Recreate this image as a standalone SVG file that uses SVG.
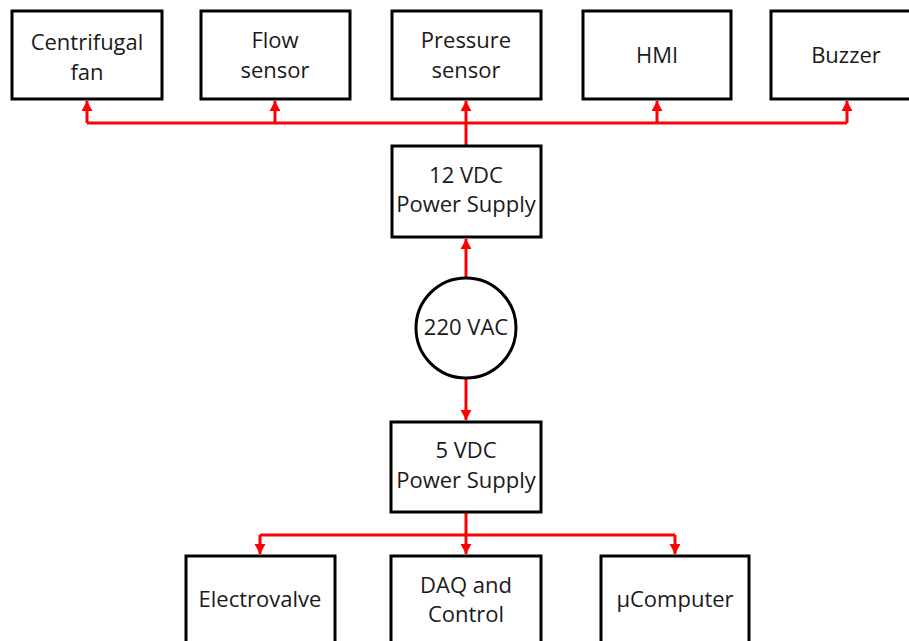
<svg xmlns="http://www.w3.org/2000/svg" width="909" height="641" viewBox="0 0 909 641">
<style>
.box{fill:#fff;stroke:#000;stroke-width:3}
.t{font-family:"Open Sans","Liberation Sans",sans-serif;font-size:22px;fill:#1a1a1a;text-anchor:middle}
.c{fill:none;stroke:#ff0000;stroke-width:3}
</style>
<defs>
<marker id="ah" markerUnits="userSpaceOnUse" markerWidth="10" markerHeight="12" refX="11" refY="6" orient="auto" viewBox="0 0 11 12">
<path d="M0,0 L11,6 L0,12 z" fill="#ff0000"/>
</marker>
</defs>
<rect width="909" height="641" fill="#fff"/>
<g id="connectors">
<path class="c" d="M87,123 H847"/>
<path class="c" d="M87,123 V101" marker-end="url(#ah)"/>
<path class="c" d="M275,123 V101" marker-end="url(#ah)"/>
<path class="c" d="M466,146 V101" marker-end="url(#ah)"/>
<path class="c" d="M657,123 V101" marker-end="url(#ah)"/>
<path class="c" d="M847,123 V101" marker-end="url(#ah)"/>
<path class="c" d="M466,278 V239" marker-end="url(#ah)"/>
<path class="c" d="M466,378 V420" marker-end="url(#ah)"/>
<path class="c" d="M466,513 V535 M260,535 H675"/>
<path class="c" d="M260,535 V554" marker-end="url(#ah)"/>
<path class="c" d="M466,535 V554" marker-end="url(#ah)"/>
<path class="c" d="M675,535 V554" marker-end="url(#ah)"/>
</g>
<g id="fan"><rect class="box" x="12" y="11" width="150" height="88"/><text class="t" x="87" y="50">Centrifugal</text><text class="t" x="87" y="80">fan</text></g>
<g id="flow"><rect class="box" x="201" y="11" width="149" height="88"/><text class="t" x="275" y="48">Flow</text><text class="t" x="275" y="78">sensor</text></g>
<g id="pressure"><rect class="box" x="392" y="11" width="149" height="88"/><text class="t" x="466" y="48">Pressure</text><text class="t" x="466" y="78">sensor</text></g>
<g id="hmi"><rect class="box" x="583" y="11" width="148" height="88"/><text class="t" x="657" y="63">HMI</text></g>
<g id="buzzer"><rect class="box" x="771" y="11" width="150" height="88"/><text class="t" x="846" y="63">Buzzer</text></g>
<g id="ps12"><rect class="box" x="392" y="146" width="149" height="91"/><text class="t" x="466" y="183">12 VDC</text><text class="t" x="466" y="212">Power Supply</text></g>
<g id="ac"><circle class="box" cx="466" cy="328" r="50"/><text class="t" x="466" y="335">220 VAC</text></g>
<g id="ps5"><rect class="box" x="391" y="422" width="150" height="90"/><text class="t" x="466" y="458">5 VDC</text><text class="t" x="466" y="488">Power Supply</text></g>
<g id="valve"><rect class="box" x="186" y="556" width="149" height="92"/><text class="t" x="260" y="607">Electrovalve</text></g>
<g id="daq"><rect class="box" x="391" y="556" width="150" height="92"/><text class="t" x="466" y="593">DAQ and</text><text class="t" x="466" y="622">Control</text></g>
<g id="micro"><rect class="box" x="601" y="556" width="148" height="92"/><text class="t" x="675" y="607">µComputer</text></g>
</svg>
